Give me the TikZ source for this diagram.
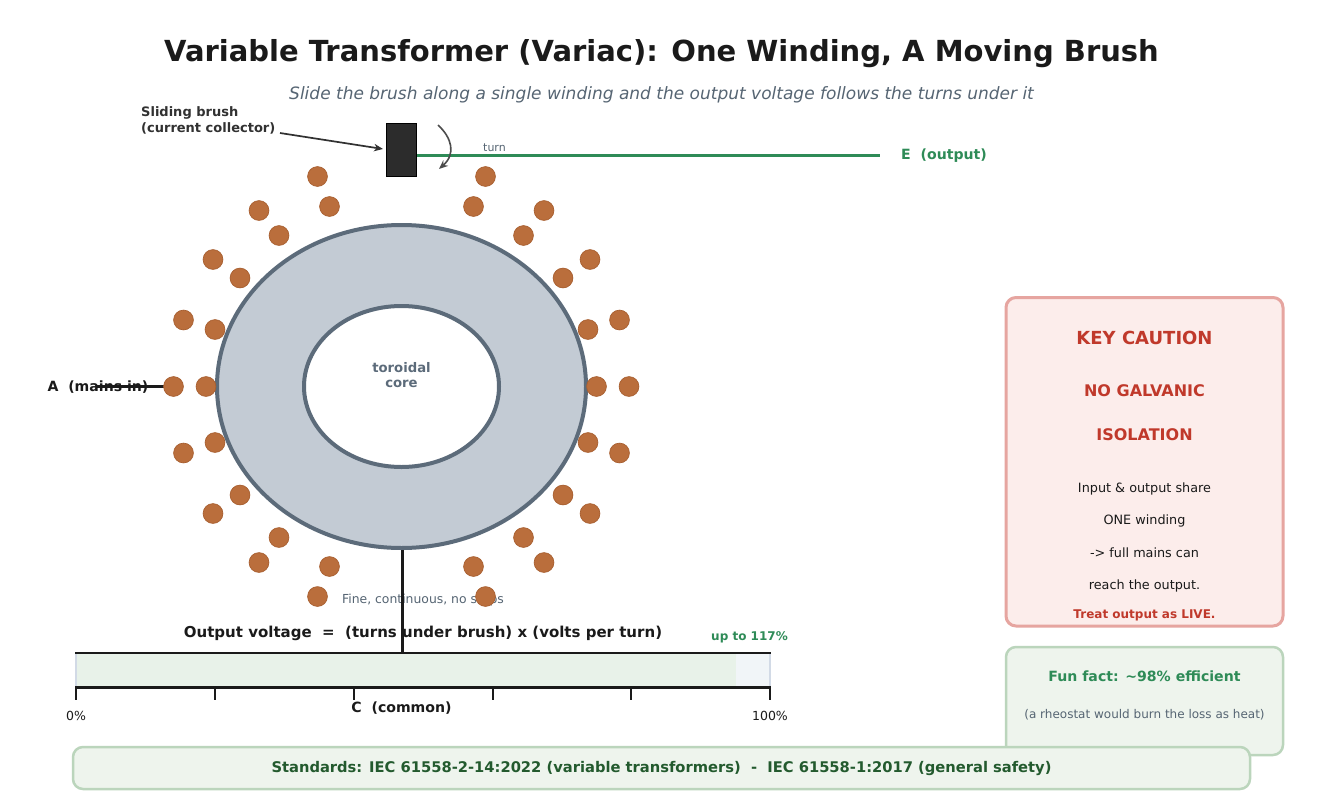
\documentclass[tikz,border=0pt]{standalone}
\usepackage{fontspec}
\setmainfont{DejaVu Sans}
\usetikzlibrary{arrows.meta,shapes.geometric}
\definecolor{ink}{HTML}{1A1A1A}
\definecolor{slate}{HTML}{566573}
\definecolor{coreblue}{HTML}{C3CBD4}
\definecolor{copper}{HTML}{BA6E3C}
\definecolor{copperd}{HTML}{A85F30}
\definecolor{wiregreen}{HTML}{2E8B57}
\definecolor{redtxt}{HTML}{C0392B}
\definecolor{redfill}{HTML}{FCEDEB}
\definecolor{redline}{HTML}{E6A5A0}
\definecolor{greenfill}{HTML}{EEF4ED}
\definecolor{greenline}{HTML}{BBD5BC}
\definecolor{darkgreen}{HTML}{235A2E}
\definecolor{barfill}{HTML}{E8F2E9}
\definecolor{barpale}{HTML}{F1F5F8}
\definecolor{barline}{HTML}{D2DAE6}
\definecolor{coreline}{HTML}{5C6B7A}
\tikzset{
  lab/.style={inner sep=0pt,align=center,text=ink},
  coil/.style={circle,draw=copperd,line width=0.7pt,fill=copper,minimum size=19.8pt,inner sep=0pt},
  card/.style={draw,rounded corners=10pt,line width=3pt,inner sep=0pt},
  softcard/.style={card,line width=2.5pt},
  wire/.style={draw=ink,line width=2.8pt},
  tick/.style={draw=ink,line width=1.3pt},
  capt/.style={lab,font=\fs{12.8}{15}},
  bighead/.style={lab,text=redtxt,font=\fs{16}{19}\bfseries},
}
\newcommand{\fs}[2]{\fontsize{#1}{#2}\selectfont}
\begin{document}
\begin{tikzpicture}[x=1pt,y=-1pt]
\useasboundingbox (0,0) rectangle (1323,806);
\fill[white] (0,0) rectangle (1323,806);

\node[lab,font=\fs{29}{34}\bfseries] (title) at (661.5,54) {Variable Transformer (Variac): One Winding, A Moving Brush};
\node[lab,font=\fs{17}{20}\itshape,text=slate] (subtitle) at (661.5,94.5) {Slide the brush along a single winding and the output voltage follows the turns under it};

% labels lying under wires
\node[lab,font=\fs{14.1}{17}\bfseries] (lA) at (98,387) {A\ \ (mains in)};
\node[lab,font=\fs{12.4}{15},text=slate] (fine) at (423,600) {Fine, continuous, no steps};
\node[lab,font=\fs{15}{18}\bfseries] (formula) at (423,633.5) {Output voltage\ \ =\ \ (turns under brush) x (volts per turn)};

% scale bar
\node[draw=none,fill=barpale,minimum width=694pt,minimum height=34pt,inner sep=0pt] (bar) at (423,670) {};
\fill[barfill] (76,653) rectangle (736,687);
\draw[barline,line width=1.4pt] (76,653) -- (76,687) (770,653) -- (770,687);
\draw[ink,line width=2.4pt] (75,653) -- (771,653) (75,687.5) -- (771,687.5);
\foreach \x in {76,215,354,493,631,770} \draw[tick] (\x,687) -- (\x,700);
\node[lab,font=\fs{12.5}{15}] (p0) at (76,715.5) {0\%};
\node[lab,font=\fs{12.5}{15}] (p100) at (770,715.5) {100\%};
\node[lab,font=\fs{12}{14}\bfseries,text=wiregreen] (p117) at (749.5,637.5) {up to 117\%};
\node[lab,font=\fs{14.1}{17}\bfseries] (lC) at (401.5,708.5) {C\ \ (common)};

% wires
\coordinate (Aend) at (97,386.5);
\coordinate (Eend) at (880,155);
\coordinate (Cend) at (402.3,653);

% core
\node[ellipse,draw=coreline,line width=4pt,fill=coreblue,minimum width=369pt,minimum height=323pt,inner sep=0pt] (core) at (401.5,386.5) {};
\node[ellipse,draw=coreline,line width=4pt,fill=white,minimum width=195pt,minimum height=161pt,inner sep=0pt] (hole) at (401.5,386.5) {};
\node[lab,text=coreline,font=\fs{13.2}{15.5}\bfseries] (holetxt) at (401.5,375) {toroidal\\core};

\draw[wire] (Aend) -- (173,386.5);
\draw[wire] (Cend |- core.south) -- (Cend);

% coils
\foreach \x/\y [count=\i] in {206/386.5,215/329.5,240/278,279/235.5,329.5/206.5,473.5/206.5,523.5/235.5,563/278,588/329.5,596.5/386.5,588/442.5,563/495,523.5/537.5,473.5/566.5,329.5/566.5,279/537.5,240/495,215/442.5}
  \node[coil] (in\i) at (\x,\y) {};
\foreach \x/\y [count=\i] in {173.5/386.5,183.5/320,213/259.5,259/210.5,317.5/176.5,485.5/176.5,544/210.5,590/259.5,619.5/320,629/386.5,619.5/453,590/513.5,544/562.5,485.5/596.5,317.5/596.5,259/562.5,213/513.5,183.5/453}
  \node[coil] (out\i) at (\x,\y) {};

% brush
\node[draw=black,fill=ink!92,line width=1.8pt,minimum width=30pt,minimum height=53pt,inner sep=0pt] (brush) at (401.5,150) {};
\draw[wiregreen,line width=3pt] (brush.east |- Eend) -- (Eend);
\node[lab,font=\fs{14.1}{17}\bfseries,text=wiregreen,anchor=west] (lE) at (901,155.5) {E\ \ (output)};
\node[lab,font=\fs{11}{13},text=slate] (turn) at (494.5,147.5) {turn};

\coordinate (turnA) at (438,125);
\coordinate (turnB) at (439,169);
\draw[black!70,line width=1.6pt,-{Stealth[length=9pt,width=7.5pt]}] (turnA) .. controls (452,138) and (456,154) .. (turnB);

\node[lab,font=\fs{13}{15.5}\bfseries,text=ink!90,align=left,anchor=west] (lbrush) at (141,120.5) {Sliding brush\\(current collector)};
\coordinate (brushtip) at (383,149);
\draw[ink!90,line width=1.7pt,-{Stealth[length=9pt,width=7.5pt]}] (280,133) -- (brushtip);

% caution card
\draw[card,draw=redline,fill=redfill] (1006,297.5) rectangle (1283,626);
\node[lab,text=redtxt,font=\fs{18}{21}\bfseries] (ck) at (1144.5,337.5) {KEY CAUTION};
\node[bighead] (c1) at (1144.5,391) {NO GALVANIC};
\node[bighead] (c2) at (1144.5,434.5) {ISOLATION};
\node[capt] (c3) at (1144.5,489) {Input \& output share};
\node[capt] (c4) at (1144.5,521) {ONE winding};
\node[capt] (c5) at (1144.5,553) {-> full mains can};
\node[capt] (c6) at (1144.5,585.5) {reach the output.};
\node[lab,text=redtxt,font=\fs{12}{14}\bfseries] (c7) at (1144.5,615.5) {Treat output as LIVE.};

% fun fact card
\draw[softcard,draw=greenline,fill=greenfill] (1006,647) rectangle (1283,755);
\node[lab,text=wiregreen,font=\fs{14.1}{17}\bfseries] (f1) at (1144.5,676.5) {Fun fact: \textasciitilde 98\% efficient};
\node[lab,text=slate,font=\fs{12}{14}] (f2) at (1144.5,715) {(a rheostat would burn the loss as heat)};

% standards
\draw[softcard,draw=greenline,fill=greenfill] (73,747) rectangle (1250,789);
\node[lab,text=darkgreen,font=\fs{14.7}{17}\bfseries] (std) at (661.5,768.5) {Standards: IEC 61558-2-14:2022 (variable transformers)\ \ -\ \ IEC 61558-1:2017 (general safety)};
\end{tikzpicture}
\end{document}
